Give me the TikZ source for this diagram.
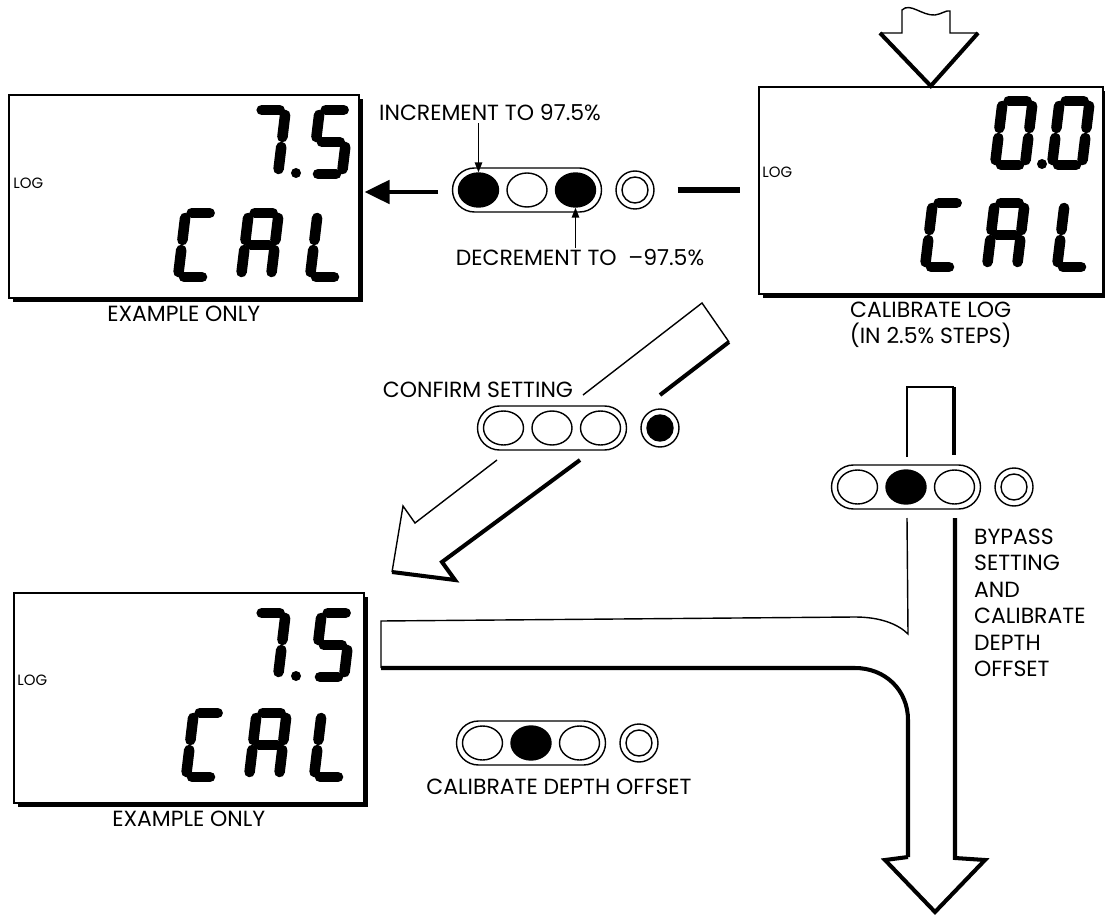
\documentclass[tikz,border=0pt]{standalone}
\usepackage{fontspec}
\setmainfont{Poppins}
\usetikzlibrary{positioning,shapes.geometric,arrows.meta,shadows}

\tikzset{
  lab/.style={font=\fontsize{12.5}{15}\selectfont, inner sep=1pt},
  loglab/.style={font=\fontsize{8.5}{10}\selectfont, inner sep=0pt},
  screen/.style={draw, line width=0.9pt, fill=white, inner sep=0pt,
    drop shadow={shadow xshift=0.09cm, shadow yshift=-0.09cm, fill=black, opacity=1}},
  lcdseg/.style={line width=6pt, line cap=round},
  thinline/.style={line width=0.8pt},
  heavy/.style={line width=2.3pt},
  bar/.style={line width=3pt},
  key/.style={ellipse, draw, line width=0.8pt, minimum width=0.8cm, minimum height=0.68cm, inner sep=0pt},
  ptr/.style={line width=0.8pt, -{Triangle[length=0.2cm, width=0.15cm]}},
  bigptr/.style={line width=2.8pt, -{Triangle[length=0.5cm, width=0.46cm]}},
  pics/keypad/.style n args={4}{code={
    \draw[thinline, rounded corners=0.44cm] (-74.5,-22) rectangle (74.5,22);
    \node[key, fill=#1] (-k1) at (-48.5,0) {};
    \node[key, fill=#2] (-k2) at (0,0) {};
    \node[key, fill=#3] (-k3) at (48.5,0) {};
    \node[circle, draw, thinline, minimum size=0.76cm, inner sep=0pt] (-r) at (108,0) {};
    \node[circle, draw, thinline, fill=#4, minimum size=0.52cm, inner sep=0pt] (-c) at (108,0) {};
  }}
}

% one seven segment character: position, then segments a b c d e f g
\newcommand{\lcdchar}[8]{%
  \begin{scope}[shift={#1}, xslant=0.12]
    \ifnum#2=1 \draw[lcdseg] (6,-64) -- (24,-64);\fi
    \ifnum#3=1 \draw[lcdseg] (30,-59) -- (30,-37);\fi
    \ifnum#4=1 \draw[lcdseg] (30,-27) -- (30,-5);\fi
    \ifnum#5=1 \draw[lcdseg] (6,0) -- (24,0);\fi
    \ifnum#6=1 \draw[lcdseg] (0,-5) -- (0,-27);\fi
    \ifnum#7=1 \draw[lcdseg] (0,-37) -- (0,-59);\fi
    \ifnum#8=1 \draw[lcdseg] (6,-32) -- (24,-32);\fi
  \end{scope}}

\begin{document}
\begin{tikzpicture}[x=0.02cm, y=-0.02cm]
\useasboundingbox (0,0) rectangle (1105,915);

% displays
\node[screen, minimum width=7cm, minimum height=4.06cm, anchor=north west] (logA) at (8,94) {};
\node[screen, minimum width=6.88cm, minimum height=4.14cm, anchor=north west] (logB) at (758,86) {};
\node[screen, minimum width=7cm, minimum height=4.2cm, anchor=north west] (logC) at (13,592) {};

\node[loglab, anchor=west] (tagA) at (13,183) {LOG};
\node[loglab, anchor=west] (tagB) at (762,172) {LOG};
\node[loglab, anchor=west] (tagC) at (17,680) {LOG};

% 7.5 / CAL
\lcdchar{(248,174)}{1}{1}{1}{0}{0}{0}{0}
\fill (296,173) circle (0.1cm);
\lcdchar{(312,174)}{1}{0}{1}{1}{0}{1}{1}
\lcdchar{(178,277)}{1}{0}{0}{1}{1}{1}{0}
\lcdchar{(241,277)}{1}{1}{1}{0}{1}{1}{1}
\lcdchar{(310,277)}{0}{0}{0}{1}{1}{1}{0}
% 0.0 / CAL
\lcdchar{(995,165)}{1}{1}{1}{1}{1}{1}{0}
\fill (1042,164) circle (0.1cm);
\lcdchar{(1052,165)}{1}{1}{1}{1}{1}{1}{0}
\lcdchar{(925,267)}{1}{0}{0}{1}{1}{1}{0}
\lcdchar{(987,267)}{1}{1}{1}{0}{1}{1}{1}
\lcdchar{(1057,267)}{0}{0}{0}{1}{1}{1}{0}
% 7.5 / CAL
\lcdchar{(248,677)}{1}{1}{1}{0}{0}{0}{0}
\fill (296,676) circle (0.1cm);
\lcdchar{(314,677)}{1}{0}{1}{1}{0}{1}{1}
\lcdchar{(186,777)}{1}{0}{0}{1}{1}{1}{0}
\lcdchar{(249,777)}{1}{1}{1}{0}{1}{1}{1}
\lcdchar{(314,777)}{0}{0}{0}{1}{1}{1}{0}

% captions
\node[lab, below=3pt of logA] (exA) {EXAMPLE ONLY};
\node[lab, below=3pt of logB, align=center] (calB) {CALIBRATE LOG\\(IN 2.5\% STEPS)};
\node[lab, below=3pt of logC] (exC) {EXAMPLE ONLY};

% key panels
\pic (kp1) at (527,190) {keypad={black}{white}{black}{white}};
\pic (kp2) at (552,428) {keypad={white}{white}{white}{black}};
\pic (kp3) at (906,487) {keypad={white}{black}{white}{white}};
\pic (kp4) at (531,743) {keypad={white}{black}{white}{white}};

\node[lab] (inc) at (490,113) {INCREMENT TO 97.5\%};
\node[lab] (dec) at (580,258) {DECREMENT TO \ –97.5\%};
\node[lab] (conf) at (478,390) {CONFIRM SETTING};
\node[lab, align=left, anchor=north west] (byp) at (972,527) {BYPASS\\SETTING\\AND\\CALIBRATE\\DEPTH\\OFFSET};
\node[lab] (dep) at (559,787) {CALIBRATE DEPTH OFFSET};

\draw[ptr] (kp1-k1.north |- inc.south) -- (kp1-k1.north);
\draw[ptr] (kp1-k3.south |- dec.north) -- (kp1-k3.south);
\coordinate (lastart) at (438,192);
\draw[bigptr] (lastart) -- ([xshift=0.1cm]lastart -| logA.east);
\draw[bar] ([xshift=0.46cm]kp1-r.east) -- ([xshift=-0.36cm]kp1-r.east -| logB.west);

% arrow into the log display
\draw[thinline] (880,33) -- (902,33) -- (902,10) .. controls (910,2) and (922,16) .. (935,15)
  .. controls (942,14) and (946,10) .. (950,11) -- (950,33) -- (978,33);
\draw[heavy, line join=miter] (880,33) -- (logB.north) -- (978,33);

% confirm arrow
\draw[thinline] (583,395) -- (702,303) -- (729,342);
\draw[heavy] (729,342) -- (660,395);
\draw[thinline] (497,460) -- (415,523) -- (403,506) -- (392,572);
\draw[heavy] (392,572) -- (455,580) -- (442,562) -- (580,460);

% bypass arrow
\draw[thinline] (907,457) -- (907,387) -- (954,387);
\draw[heavy] (954,387) -- (954,455);
\draw[thinline] (907,518) -- (908,634) .. controls (898,624) and (880,617) .. (855,617) -- (381,621) -- (381,668);
\draw[heavy] (381,668) -- (855,668) .. controls (885,668) and (908,690) .. (908,720) -- (908,857);
\draw[heavy, line join=miter] (908,857) -- (885,860) -- (935,912) -- (985,860) -- (955,858) -- (955,518);
\end{tikzpicture}
\end{document}
